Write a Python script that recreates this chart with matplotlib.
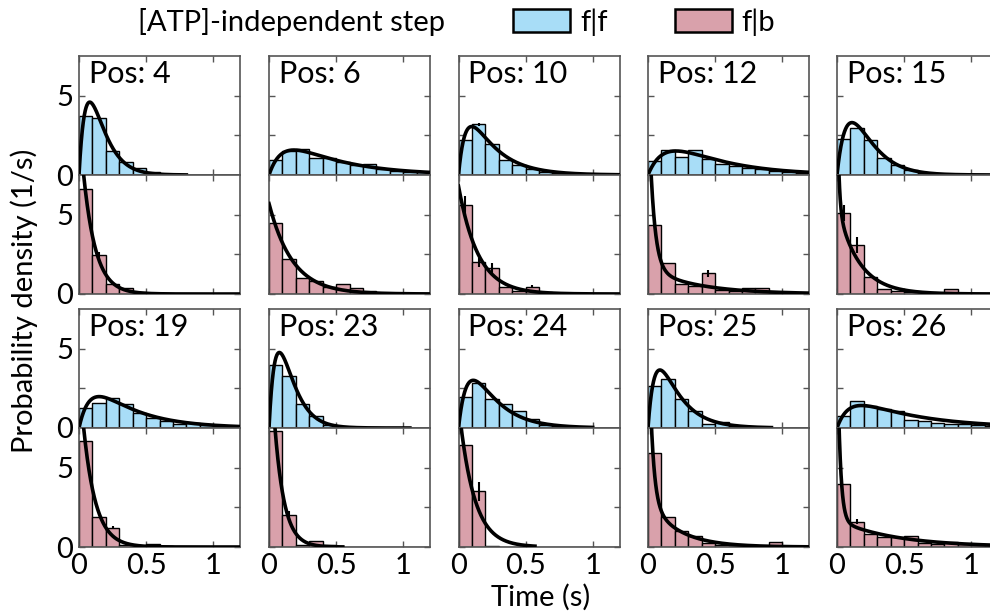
import numpy as np
import matplotlib
matplotlib.use('Agg')
import matplotlib.pyplot as plt
from matplotlib.patches import Patch

plt.rcParams['font.family'] = ['Lato', 'DejaVu Sans']

# ---------------- data ----------------
positions = [4, 6, 10, 12, 15, 19, 23, 24, 25, 26]
bin_edges = [0.0, 0.1, 0.2, 0.3, 0.4, 0.5, 0.6, 0.7, 0.8, 0.9, 1.0, 1.1, 1.2]

# histogram heights (1/s), f|f (forward after forward)
ff_pos4  = [3.7, 3.6, 1.5, 0.8, 0.45, 0.17, 0.05, 0.02, 0, 0, 0, 0]
ff_pos6  = [0.95, 1.5, 1.65, 1.05, 1.1, 0.8, 0.6, 0.7, 0.35, 0.25, 0.2, 0.18]
ff_pos10 = [2.2, 3.2, 1.95, 0.95, 0.6, 0.36, 0.2, 0.1, 0.05, 0.05, 0.03, 0.02]
ff_pos12 = [0.9, 1.55, 1.15, 1.6, 1.03, 0.72, 0.57, 0.46, 0.36, 0.25, 0.19, 0.15]
ff_pos15 = [2.25, 2.95, 2.2, 1.1, 0.6, 0.3, 0.15, 0.05, 0.03, 0.02, 0, 0]
ff_pos19 = [1.28, 1.55, 1.9, 1.5, 0.96, 0.64, 0.43, 0.28, 0.32, 0.17, 0.1, 0.06]
ff_pos23 = [3.95, 3.25, 1.5, 0.75, 0.22, 0.06, 0.02, 0, 0, 0, 0, 0]
ff_pos24 = [1.95, 2.85, 1.85, 1.5, 1.05, 0.55, 0.21, 0.1, 0.05, 0.04, 0.02, 0.02]
ff_pos25 = [2.65, 3.1, 1.85, 1.05, 0.27, 0.38, 0.1, 0.05, 0.04, 0.03, 0.02, 0.02]
ff_pos26 = [0.75, 1.72, 1.38, 1.19, 1.06, 0.5, 0.43, 0.34, 0.28, 0.23, 0.17, 0.13]

# histogram heights (1/s), f|b (forward after backward)
fb_pos4  = [6.6, 2.45, 0.65, 0.35, 0.15, 0.05, 0.02, 0, 0, 0, 0, 0]
fb_pos6  = [4.45, 2.2, 1.0, 0.85, 0.42, 0.63, 0.38, 0.17, 0.07, 0.05, 0.03, 0.02]
fb_pos10 = [5.6, 2.0, 1.65, 0.45, 0.17, 0.45, 0.12, 0.05, 0.03, 0.02, 0.02, 0]
fb_pos12 = [4.35, 1.95, 0.6, 0.48, 1.3, 0.27, 0.17, 0.37, 0.35, 0.05, 0.04, 0.03]
fb_pos15 = [5.1, 3.1, 1.05, 0.31, 0.17, 0.1, 0.05, 0.03, 0.33, 0.02, 0.02, 0]
fb_pos19 = [6.65, 1.9, 1.22, 0.1, 0.05, 0.2, 0.05, 0.02, 0, 0, 0, 0]
fb_pos23 = [7.3, 2.0, 0.1, 0.35, 0.1, 0, 0, 0, 0, 0, 0, 0]
fb_pos24 = [6.45, 3.5, 0.05, 0, 0, 0, 0, 0, 0, 0, 0, 0]
fb_pos25 = [5.9, 1.9, 1.0, 0.7, 0.23, 0.1, 0.05, 0.05, 0.05, 0.34, 0.03, 0.02]
fb_pos26 = [4.0, 1.6, 0.8, 0.63, 0.63, 0.7, 0.23, 0.19, 0.34, 0.19, 0.13, 0.1]

# error bar half-lengths (only the visible ones)
ff_err_pos10 = [0, 0.1, 0, 0, 0, 0, 0, 0, 0, 0, 0, 0]
fb_err_pos4  = [0, 0.2, 0, 0, 0, 0, 0, 0, 0, 0, 0, 0]
fb_err_pos10 = [0.6, 0.3, 0.3, 0, 0, 0.1, 0, 0, 0, 0, 0, 0]
fb_err_pos12 = [0, 0, 0, 0, 0.2, 0, 0, 0, 0, 0, 0, 0]
fb_err_pos15 = [0.5, 0.5, 0, 0, 0, 0, 0, 0, 0, 0, 0, 0]
fb_err_pos19 = [0, 0, 0.1, 0, 0, 0, 0, 0, 0, 0, 0, 0]
fb_err_pos23 = [0, 0.3, 0, 0, 0, 0, 0, 0, 0, 0, 0, 0]
fb_err_pos24 = [0, 0.6, 0, 0, 0, 0, 0, 0, 0, 0, 0, 0]
fb_err_pos26 = [0, 0.15, 0, 0, 0, 0, 0, 0, 0, 0, 0, 0]
zero_err = [0] * 12

# fitted model parameters (rates in 1/s)
# f|f : two sequential exponential steps
ff_k1 = [12.0, 10.0, 18.0, 8.0, 8.5, 12.0, 12.0, 14.0, 18.0, 11.4]
ff_k2 = [13.0, 2.5, 5.0, 2.6, 9.5, 3.2, 14.0, 5.5, 6.5, 2.07]
# f|b : mixture of a fast and a slow exponential
fb_frac_fast = [1.0, 1.0, 1.0, 0.42, 0.10, 1.0, 1.0, 1.0, 0.35, 0.26]
fb_k_fast    = [11.0, 5.7, 6.8, 27.0, 80.0, 11.0, 14.0, 9.0, 35.0, 47.0]
fb_k_slow    = [1.0, 1.0, 1.0, 2.8, 6.2, 1.0, 1.0, 1.0, 4.6, 2.3]
# time range over which each fit curve is drawn (s)
ff_t_end = [0.8, 1.2, 1.2, 1.2, 1.2, 1.2, 1.05, 1.0, 0.92, 1.2]
fb_t_end = [1.2, 1.2, 1.2, 1.2, 1.2, 1.2, 0.55, 0.57, 1.2, 1.2]

ff_hist = [ff_pos4, ff_pos6, ff_pos10, ff_pos12, ff_pos15,
           ff_pos19, ff_pos23, ff_pos24, ff_pos25, ff_pos26]
fb_hist = [fb_pos4, fb_pos6, fb_pos10, fb_pos12, fb_pos15,
           fb_pos19, fb_pos23, fb_pos24, fb_pos25, fb_pos26]
ff_errs = [zero_err, zero_err, ff_err_pos10, zero_err, zero_err,
           zero_err, zero_err, zero_err, zero_err, zero_err]
fb_errs = [fb_err_pos4, zero_err, fb_err_pos10, fb_err_pos12, fb_err_pos15,
           fb_err_pos19, fb_err_pos23, fb_err_pos24, zero_err, fb_err_pos26]

# ---------------- style ----------------
blue = '#a8ddf7'
pink = '#d9a1ab'
spine_col = '#555555'
fs = 21

W, H = 990, 614
fig = plt.figure(figsize=(W / 100, H / 100), dpi=100)

col_left = [79, 269, 458.5, 648, 837]
panel_w = 161
row_tops = [56, 309]
panel_h = 119

edges = np.array(bin_edges)
centers = (edges[:-1] + edges[1:]) / 2
widths = np.diff(edges)


def ff_model(t, k1, k2):
    return k1 * k2 / (k2 - k1) * (np.exp(-k1 * t) - np.exp(-k2 * t))


def fb_model(t, a, kf, ks):
    return a * kf * np.exp(-kf * t) + (1 - a) * ks * np.exp(-ks * t)


def style_axes(ax, show_y, show_x):
    ax.set_xlim(0, 1.2)
    ax.set_ylim(0, 7.5)
    ax.set_xticks([0, 0.5, 1])
    ax.set_yticks([0, 2.5, 5])
    ax.set_yticklabels(['0', '', '5'] if show_y else [])
    ax.set_xticklabels(['0', '0.5', '1'] if show_x else [])
    ax.tick_params(direction='in', length=4, width=1, color=spine_col,
                   top=True, right=True, labelsize=fs, pad=4)
    for s in ax.spines.values():
        s.set_color(spine_col)
        s.set_linewidth(1.2)


for i, pos in enumerate(positions):
    r, c = divmod(i, 5)
    x0 = col_left[c] / W
    top = row_tops[r]
    ax_u = fig.add_axes([x0, 1 - (top + panel_h) / H, panel_w / W, panel_h / H])
    ax_l = fig.add_axes([x0, 1 - (top + 2 * panel_h) / H, panel_w / W, panel_h / H])

    ax_u.bar(edges[:-1], ff_hist[i], width=widths, align='edge', color=blue,
             edgecolor='black', linewidth=1.0, zorder=2)
    ax_u.errorbar(centers, ff_hist[i], yerr=ff_errs[i], fmt='none',
                  ecolor='black', elinewidth=1.5, capsize=0, zorder=3)
    tu = np.linspace(0.0005, ff_t_end[i], 1000)
    ax_u.plot(tu, ff_model(tu, ff_k1[i], ff_k2[i]), color='black', lw=2.6,
              zorder=4)

    ax_l.bar(edges[:-1], fb_hist[i], width=widths, align='edge', color=pink,
             edgecolor='black', linewidth=1.0, zorder=2)
    ax_l.errorbar(centers, fb_hist[i], yerr=fb_errs[i], fmt='none',
                  ecolor='black', elinewidth=1.5, capsize=0, zorder=3)
    tl = np.linspace(0.0, fb_t_end[i], 1000)
    ax_l.plot(tl, fb_model(tl, fb_frac_fast[i], fb_k_fast[i], fb_k_slow[i]),
              color='black', lw=2.6, zorder=4)

    style_axes(ax_u, c == 0, False)
    style_axes(ax_l, c == 0, r == 1)
    ax_u.text(0.06, 0.97, f'Pos: {pos}', transform=ax_u.transAxes,
              ha='left', va='top', fontsize=fs + 1)

fig.text(24 / W, 1 - 301 / H, 'Probability density (1/s)', rotation=90,
         ha='center', va='center', fontsize=fs)
fig.text(541 / W, 1 - 597 / H, 'Time (s)', ha='center', va='center', fontsize=fs)

fig.text(138 / W, 1 - 22 / H, '[ATP]-independent step', ha='left',
         va='center', fontsize=fs)
handles = [Patch(facecolor=blue, edgecolor='black', linewidth=1.8),
           Patch(facecolor=pink, edgecolor='black', linewidth=1.8)]
fig.legend(handles, ['f|f', 'f|b'], loc='center left',
           bbox_to_anchor=(513 / W, 1 - 22 / H), ncol=2, frameon=False,
           fontsize=fs, handlelength=1.95, handleheight=0.8,
           handletextpad=0.35, columnspacing=2.3, borderpad=0,
           borderaxespad=0)

fig.savefig('out.png', dpi=100)
